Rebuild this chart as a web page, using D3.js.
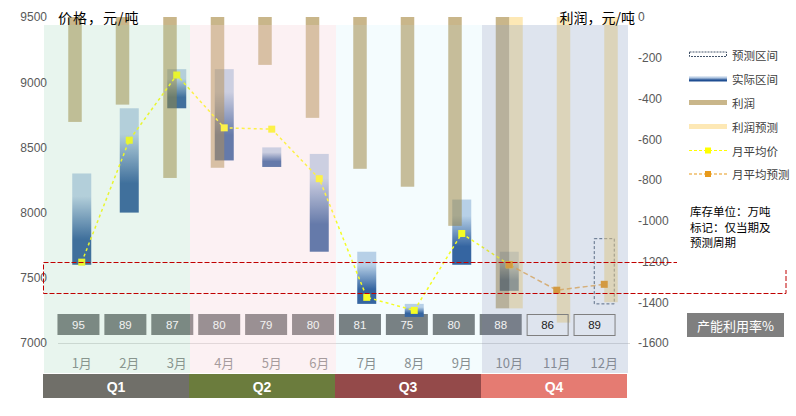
<!DOCTYPE html>
<html>
<head>
<meta charset="utf-8">
<script src="https://cdn.jsdelivr.net/npm/d3@7"></script>
<style>
  body { margin: 0; background: #fff; }
  svg { display: block; }
</style>
</head>
<body>
<svg id="chart"></svg>
<script>
const months = ["1月", "2月", "3月", "4月", "5月", "6月", "7月", "8月", "9月", "10月", "11月", "12月"];
const quarters = ["Q1", "Q2", "Q3", "Q4"];

// price range (actual), Jan-Oct
const rangeLow  = [7600, 8000, 8800, 8400, 8350, 7700, 7300, 7200, 7600, 7400];
const rangeHigh = [8300, 8800, 9100, 9100, 8500, 8450, 7700, 7300, 8100, 7700];
// forecast range, Dec only
const forecastMonths = ["12月"];
const forecastLow  = [7300];
const forecastHigh = [7800];

const avgPrice    = [7620, 8555, 9055, 8650, 8640, 8260, 7350, 7250, 7840, 7600];
const avgForecast = [null, null, null, null, null, null, null, null, null, 7600, 7405, 7450];

const profit         = [-515, -430, -790, -740, -235, -495, -745, -833, -1025, -1430];
const profitForecast = [null, null, null, null, null, null, null, null, null, -1430, -1500, -1400];

const capacity = [95, 89, 87, 80, 79, 80, 81, 75, 80, 88, 86, 89];
const capacityForecast = [false, false, false, false, false, false, false, false, false, false, true, true];

const priceTicks  = [7000, 7500, 8000, 8500, 9000, 9500];
const profitTicks = [0, -200, -400, -600, -800, -1000, -1200, -1400, -1600];
const highlightBand = [7385, 7625];

const W = 796, H = 416;
const svg = d3.select("#chart").attr("width", W).attr("height", H);
const font = "'Liberation Sans', Arial, sans-serif";
const cjk = "'Noto Sans CJK SC', sans-serif";

const x = d3.scaleBand().domain(months).range([58, 628]);
const cx = m => x(m) + x.bandwidth() / 2;
const xGroup = d3.scaleBand().domain(["actual", "forecast"]).range([-13.5, 13.5]);
const xBox = d3.scaleBand().domain(months).range([55, 618]);
const xQ = d3.scaleBand().domain(quarters).range([44, 628]);
const yL = d3.scaleLinear().domain([7000, 9500]).range([343, 17]);
const yR = d3.scaleLinear().domain([-1600, 0]).range([343, 17]);

const defs = svg.append("defs");
const grad = defs.append("linearGradient").attr("id", "rangeGrad")
  .attr("x1", 0).attr("y1", 0).attr("x2", 0).attr("y2", 1);
grad.append("stop").attr("offset", "0%").attr("stop-color", "#b8cce4");
grad.append("stop").attr("offset", "25%").attr("stop-color", "#b8cce4");
grad.append("stop").attr("offset", "72%").attr("stop-color", "#1f4e92");
grad.append("stop").attr("offset", "100%").attr("stop-color", "#1f4e92");

const quarterColors = ["#706f69", "#6b7c3d", "#944a4a", "#e57b72"];
const tintColors = ["rgb(163,215,187)", "rgb(246,213,219)", "rgb(182,235,248)", "rgb(145,165,198)"];
const tintAlpha = [0.25, 0.33, 0.15, 0.3];

// baseline
svg.append("line")
  .attr("x1", 58).attr("x2", 630)
  .attr("y1", yL(7000) + 0.5).attr("y2", yL(7000) + 0.5)
  .attr("stroke", "#d9d9d9");

// capacity boxes (actual)
const boxW = 42, boxTop = 314, boxH = 21;
svg.append("g").selectAll("rect")
  .data(months.filter((m, i) => !capacityForecast[i]))
  .join("rect")
  .attr("x", m => xBox(m) + (xBox.bandwidth() - boxW) / 2)
  .attr("y", boxTop).attr("width", boxW).attr("height", boxH)
  .attr("fill", "#6e6f70");

// range bars
const rangeData = rangeLow.map((lo, i) => ({ m: months[i], lo, hi: rangeHigh[i] }));
svg.append("g").selectAll("rect")
  .data(rangeData)
  .join("rect")
  .attr("x", d => cx(d.m) - 9.5)
  .attr("width", 19)
  .attr("y", d => yL(d.hi))
  .attr("height", d => yL(d.lo) - yL(d.hi))
  .attr("fill", "url(#rangeGrad)");

// forecast range box
svg.append("g").selectAll("rect")
  .data(forecastMonths.map((m, i) => ({ m, lo: forecastLow[i], hi: forecastHigh[i] })))
  .join("rect")
  .attr("x", d => cx(d.m) - 10)
  .attr("width", 20)
  .attr("y", d => yL(d.hi))
  .attr("height", d => yL(d.lo) - yL(d.hi))
  .attr("fill", "none")
  .attr("stroke", "#44546a")
  .attr("stroke-dasharray", "3,2");

// profit bars
svg.append("g").selectAll("rect")
  .data(profit.map((v, i) => ({ m: months[i], v })))
  .join("rect")
  .attr("x", d => cx(d.m) + xGroup("actual"))
  .attr("width", xGroup.bandwidth())
  .attr("y", yR(0))
  .attr("height", d => yR(d.v) - yR(0))
  .attr("fill", "#936d15")
  .attr("fill-opacity", 0.5);

svg.append("g").selectAll("rect")
  .data(profitForecast.map((v, i) => ({ m: months[i], v })).filter(d => d.v != null))
  .join("rect")
  .attr("x", d => cx(d.m) + xGroup("forecast"))
  .attr("width", xGroup.bandwidth())
  .attr("y", yR(0))
  .attr("height", d => yR(d.v) - yR(0))
  .attr("fill", "#fbd16b")
  .attr("fill-opacity", 0.5);

// average price lines
const line = d3.line().x(d => cx(d.m)).y(d => yL(d.v));
const avgData = avgPrice.map((v, i) => ({ m: months[i], v }));
const fcData = avgForecast.map((v, i) => ({ m: months[i], v })).filter(d => d.v != null);

svg.append("path").datum(avgData)
  .attr("d", line).attr("fill", "none")
  .attr("stroke", "#ffff00").attr("stroke-width", 1.5)
  .attr("stroke-dasharray", "3,3");
svg.append("path").datum(fcData)
  .attr("d", line).attr("fill", "none")
  .attr("stroke", "#f0a030").attr("stroke-opacity", 0.8).attr("stroke-width", 1.5)
  .attr("stroke-dasharray", "5,3");

svg.append("g").selectAll("rect")
  .data(avgData)
  .join("rect")
  .attr("x", d => cx(d.m) - 3.5).attr("y", d => yL(d.v) - 3.5)
  .attr("width", 7).attr("height", 7)
  .attr("fill", "#ffff00");
svg.append("g").selectAll("rect")
  .data(fcData)
  .join("rect")
  .attr("x", d => cx(d.m) - 3.5).attr("y", d => yL(d.v) - 3.5)
  .attr("width", 7).attr("height", 7)
  .attr("fill", "#f0960a");

// month labels
svg.append("g").selectAll("text")
  .data(months)
  .join("text")
  .attr("x", cx).attr("y", 362)
  .attr("text-anchor", "middle").attr("dominant-baseline", "central")
  .attr("font-family", cjk).attr("font-size", 13)
  .attr("fill", "#7f7f7f")
  .text(d => d);

// quarter tints on top
svg.append("g").selectAll("rect")
  .data(quarters)
  .join("rect")
  .attr("x", q => xQ(q)).attr("width", xQ.bandwidth())
  .attr("y", 25).attr("height", 348)
  .attr("fill", (q, i) => tintColors[i])
  .attr("fill-opacity", (q, i) => tintAlpha[i]);

// capacity texts and forecast boxes
svg.append("g").selectAll("rect")
  .data(months.filter((m, i) => capacityForecast[i]))
  .join("rect")
  .attr("x", m => xBox(m) + (xBox.bandwidth() - boxW) / 2 + 0.5)
  .attr("y", boxTop + 0.5).attr("width", boxW - 1).attr("height", boxH)
  .attr("fill", "none").attr("stroke", "#7f7f7f");

svg.append("g").selectAll("text")
  .data(capacity.map((v, i) => ({ m: months[i], v, f: capacityForecast[i] })))
  .join("text")
  .attr("x", d => xBox(d.m) + xBox.bandwidth() / 2)
  .attr("y", boxTop + boxH / 2 + 0.5)
  .attr("text-anchor", "middle").attr("dominant-baseline", "central")
  .attr("font-family", font).attr("font-size", 11.5)
  .attr("fill", d => d.f ? "#222" : "#f2f2f2")
  .text(d => d.v);

// quarter bars
const qg = svg.append("g").selectAll("g")
  .data(quarters)
  .join("g");
qg.append("rect")
  .attr("x", q => xQ(q) - 1).attr("width", xQ.bandwidth())
  .attr("y", 374).attr("height", 24)
  .attr("fill", (q, i) => quarterColors[i]);
qg.append("text")
  .attr("x", q => xQ(q) - 1 + xQ.bandwidth() / 2).attr("y", 386.5)
  .attr("text-anchor", "middle").attr("dominant-baseline", "central")
  .attr("font-family", font).attr("font-size", 14).attr("font-weight", "bold")
  .attr("fill", "#fff")
  .text(q => q);

// axes
const leftAxis = svg.append("g")
  .attr("transform", "translate(47,0)")
  .call(d3.axisLeft(yL).tickValues(priceTicks).tickSize(0).tickPadding(0).tickFormat(d3.format("d")));
const rightAxis = svg.append("g")
  .attr("transform", "translate(638,0)")
  .call(d3.axisRight(yR).tickValues(profitTicks).tickSize(0).tickPadding(0).tickFormat(d => d === 0 ? "0" : "-" + Math.abs(d)));
[leftAxis, rightAxis].forEach(a => {
  a.select(".domain").remove();
  a.selectAll("text").attr("font-family", font).attr("font-size", 12).attr("fill", "#595959");
});

svg.append("text")
  .attr("x", 58).attr("y", 17).attr("dominant-baseline", "central")
  .attr("font-family", cjk).attr("font-size", 14).attr("fill", "#000")
  .attr("letter-spacing", 1)
  .text("价格，元/吨");
svg.append("text")
  .attr("x", 635).attr("y", 17).attr("dominant-baseline", "central")
  .attr("text-anchor", "end")
  .attr("font-family", cjk).attr("font-size", 14).attr("fill", "#000")
  .text("利润，元/吨");

// highlight band (red dashed)
const hTop = Math.round(yL(highlightBand[1])) + 0.5;
const hBot = Math.round(yL(highlightBand[0])) + 0.5;
svg.append("rect")
  .attr("x", 43.5).attr("width", 786 - 43.5)
  .attr("y", hTop).attr("height", hBot - hTop)
  .attr("fill", "none").attr("stroke", "#c00000").attr("stroke-width", 1)
  .attr("stroke-dasharray", "5,2");

// legend panel
svg.append("rect").attr("x", 677).attr("y", 0).attr("width", W - 677).attr("height", 270).attr("fill", "#fff");

const legend = svg.append("g").attr("transform", "translate(689,0)");
const legendItems = [
  { label: "预测区间", y: 54.5, type: "dashbox" },
  { label: "实际区间", y: 79, type: "grad" },
  { label: "利润", y: 102.5, type: "profit" },
  { label: "利润预测", y: 126.5, type: "profitF" },
  { label: "月平均价", y: 150.5, type: "avg" },
  { label: "月平均预测", y: 174, type: "avgF" }
];
legendItems.forEach(it => {
  const g = legend.append("g");
  if (it.type === "dashbox") {
    g.append("rect").attr("x", 0.5).attr("y", it.y - 2.5).attr("width", 37).attr("height", 4.5)
      .attr("fill", "none").attr("stroke", "#44546a").attr("stroke-dasharray", "2,1");
  } else if (it.type === "grad") {
    g.append("rect").attr("x", 0).attr("y", it.y - 2.5).attr("width", 38).attr("height", 5)
      .attr("fill", "url(#rangeGrad)");
  } else if (it.type === "profit" || it.type === "profitF") {
    g.append("rect").attr("x", 0).attr("y", it.y - 2.5).attr("width", 38).attr("height", 5)
      .attr("fill", it.type === "profit" ? "#936d15" : "#fbd16b").attr("fill-opacity", 0.5);
  } else {
    const c = it.type === "avg" ? "#ffff00" : "#e89a1a";
    g.append("line").attr("x1", 0).attr("x2", 38).attr("y1", it.y).attr("y2", it.y)
      .attr("stroke", c).attr("stroke-width", 1.2).attr("stroke-dasharray", "3,2");
    g.append("rect").attr("x", 16).attr("y", it.y - 3).attr("width", 6).attr("height", 6).attr("fill", c);
  }
  g.append("text").attr("x", 43).attr("y", it.y).attr("dominant-baseline", "central")
    .attr("font-family", cjk).attr("font-size", 11.5).attr("fill", "#404040")
    .text(it.label);
});

// notes
const notes = ["库存单位：万吨", "标记：仅当期及", "预测周期"];
svg.append("g").selectAll("text")
  .data(notes)
  .join("text")
  .attr("x", 690).attr("y", (d, i) => 211 + i * 15.5)
  .attr("dominant-baseline", "central")
  .attr("font-family", cjk).attr("font-size", 11.5).attr("fill", "#000")
  .text(d => d);

svg.append("rect").attr("x", 687).attr("y", 313).attr("width", 97).attr("height", 24).attr("fill", "#7f7f7f");
svg.append("text").attr("x", 735.5).attr("y", 325).attr("text-anchor", "middle").attr("dominant-baseline", "central")
  .attr("font-family", cjk).attr("font-size", 13).attr("fill", "#fff")
  .text("产能利用率%");
</script>
</body>
</html>
